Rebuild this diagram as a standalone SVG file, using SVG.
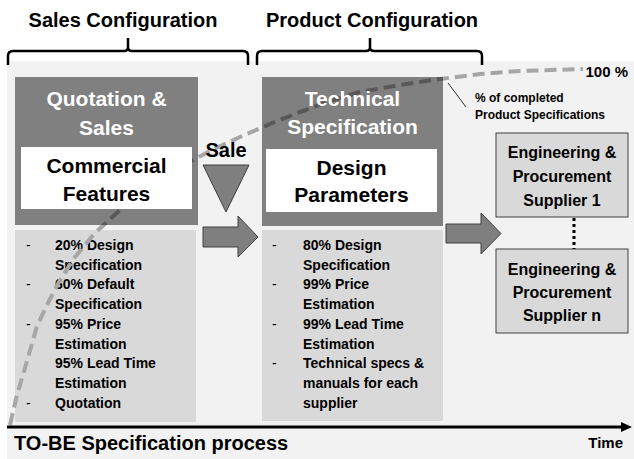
<svg xmlns="http://www.w3.org/2000/svg" width="634" height="459" viewBox="0 0 634 459">
<style>
text{font-family:"Liberation Sans",Arial,sans-serif;font-weight:bold;fill:#000}
.h{font-size:20px}
.w{fill:#fff;font-size:21px}
.b{font-size:21px}
.li{font-size:14px}
.d{font-size:14px;font-weight:normal}
.s{font-size:16px}
.dark{fill:#000;fill-opacity:0.47}
.light{fill:#d9d9d9}
.white{fill:#fff}
.blk{fill:#7f7f7f;stroke:#404040;stroke-width:1}
.brace{fill:none;stroke:#000;stroke-width:2.5;stroke-linejoin:round}
</style>
<rect x="7" y="61" width="627" height="398" fill="#f2f2f2"/>

<g id="braces">
<path class="brace" d="M8,65 V56 Q8,51 13,51 H124 Q128,51 128,47 V38 M128,47 Q128,51 132,51 H243 Q248,51 248,56 V65"/>
<path class="brace" d="M257,65 V56 Q257,51 262,51 H366 Q370,51 370,47 V38 M370,47 Q370,51 374,51 H477 Q482,51 482,56 V65"/>
<text class="h" x="123" y="27" text-anchor="middle">Sales Configuration</text>
<text class="h" x="372" y="27" text-anchor="middle">Product Configuration</text>
</g>

<g id="list1">
<rect class="light" x="15" y="230" width="181" height="192"/>
<text class="d" x="26" y="250">-</text>
<text class="d" x="26" y="289.4">-</text>
<text class="d" x="26" y="328.8">-</text>
<text class="d" x="26" y="407.6">-</text>
<text class="li" x="55" y="250">20% Design</text>
<text class="li" x="55" y="269.7">Specification</text>
<text class="li" x="55" y="289.4">60% Default</text>
<text class="li" x="55" y="309.1">Specification</text>
<text class="li" x="55" y="328.8">95% Price</text>
<text class="li" x="55" y="348.5">Estimation</text>
<text class="li" x="55" y="368.2">95% Lead Time</text>
<text class="li" x="55" y="387.9">Estimation</text>
<text class="li" x="55" y="407.6">Quotation</text>
</g>

<g id="list2">
<rect class="light" x="262" y="230" width="181" height="191"/>
<text class="d" x="272" y="250">-</text>
<text class="d" x="272" y="289.4">-</text>
<text class="d" x="272" y="328.8">-</text>
<text class="d" x="272" y="368.2">-</text>
<text class="li" x="303" y="250">80% Design</text>
<text class="li" x="303" y="269.7">Specification</text>
<text class="li" x="303" y="289.4">99% Price</text>
<text class="li" x="303" y="309.1">Estimation</text>
<text class="li" x="303" y="328.8">99% Lead Time</text>
<text class="li" x="303" y="348.5">Estimation</text>
<text class="li" x="303" y="368.2">Technical specs &amp;</text>
<text class="li" x="303" y="387.9">manuals for each</text>
<text class="li" x="303" y="407.6">supplier</text>
</g>

<g id="curve">
<polyline fill="none" stroke="#a6a6a6" stroke-width="4" stroke-dasharray="12,6" stroke-linejoin="round" points="10,425 17,395 25,368 37,326 48,303 60,280 75,257 95,233 120,210 150,187 180,167 210,151 240,137 270,124 300,112 330,101 360,92 400,85 440,79 480,74 520,71 583,69"/>
<line x1="448" y1="83" x2="466" y2="107" stroke="#000" stroke-width="0.8"/>
<text x="628" y="77" text-anchor="end" style="font-size:15px">100 %</text>
<text x="475" y="102" style="font-size:12px">% of completed</text>
<text x="475" y="119" style="font-size:12px">Product Specifications</text>
</g>

<g id="quotation">
<rect class="dark" x="15" y="77" width="183" height="148"/>
<text class="w" x="106.5" y="106" text-anchor="middle">Quotation &amp;</text>
<text class="w" x="106.5" y="135" text-anchor="middle">Sales</text>
<rect class="white" x="21" y="147" width="171" height="62"/>
<text class="b" x="106.5" y="173" text-anchor="middle">Commercial</text>
<text class="b" x="106.5" y="201" text-anchor="middle">Features</text>
</g>

<g id="technical">
<rect class="dark" x="262" y="77" width="181" height="149"/>
<text class="w" x="352.5" y="106" text-anchor="middle">Technical</text>
<text class="w" x="352.5" y="134" text-anchor="middle">Specification</text>
<rect class="white" x="266" y="149" width="171" height="63"/>
<text class="b" x="351.5" y="175" text-anchor="middle">Design</text>
<text class="b" x="351.5" y="202" text-anchor="middle">Parameters</text>
</g>

<g id="sale">
<polygon class="blk" points="203,165 249,165 226,212"/>
<text class="h" x="226" y="157" text-anchor="middle">Sale</text>
</g>

<g id="supplier1">
<rect class="light" x="496" y="133" width="132" height="84" stroke="#404040" stroke-width="1"/>
<text class="s" x="562" y="158" text-anchor="middle">Engineering &amp;</text>
<text class="s" x="562" y="182" text-anchor="middle">Procurement</text>
<text class="s" x="562" y="206" text-anchor="middle">Supplier 1</text>
</g>

<g id="suppliern">
<rect class="light" x="496" y="249" width="132" height="84" stroke="#404040" stroke-width="1"/>
<text class="s" x="562" y="275" text-anchor="middle">Engineering &amp;</text>
<text class="s" x="562" y="298" text-anchor="middle">Procurement</text>
<text class="s" x="562" y="321" text-anchor="middle">Supplier n</text>
</g>

<g id="connectors">
<polygon class="blk" points="203,227 238,227 238,216 258,237 238,257 238,247 203,247"/>
<polygon class="blk" points="446,224 481,224 481,213 501,233.5 481,254 481,243 446,243"/>
<line x1="574" y1="218" x2="574" y2="249" stroke="#000" stroke-width="3" stroke-dasharray="3,3"/>
<line x1="7" y1="427" x2="624" y2="427" stroke="#000" stroke-width="3"/>
<polygon points="621,422 632,427 621,432" fill="#000"/>
</g>

<g id="axis-labels">
<text class="h" x="14" y="450">TO-BE Specification process</text>
<text x="623" y="448" text-anchor="end" style="font-size:15px">Time</text>
</g>
</svg>
